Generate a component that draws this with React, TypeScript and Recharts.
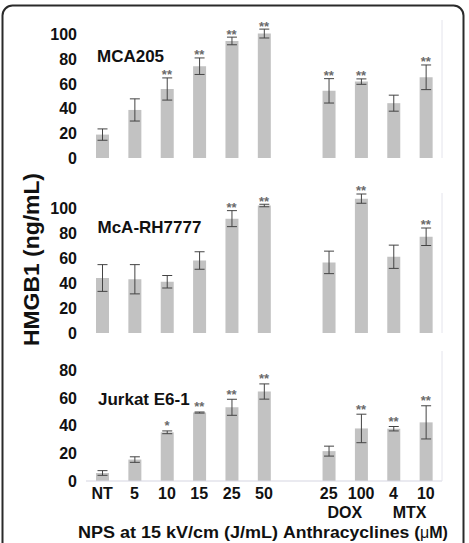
import React from "react";
import {
  ComposedChart,
  Bar,
  Line,
  XAxis,
  YAxis,
  ErrorBar,
} from "recharts";

// Treatment categories: NPS energy doses, an empty spacer, then anthracyclines
const categoryKeys = ["NT", "5", "10", "15", "25", "50", "gap", "DOX25", "DOX100", "MTX4", "MTX10"];
const tickLabels = ["NT", "5", "10", "15", "25", "50", "", "25", "100", "4", "10"];
const groupLabels = ["", "", "", "", "", "", "", "DOX", "", "MTX", ""];

// HMGB1 release (ng/mL), mean and error per cell line
const mca205Mean = [19, 39, 56, 74.5, 95, 101, null, 54.5, 62, 44.5, 65.5];
const mca205Err = [4.6, 9, 9, 6.7, 3.1, 3.6, null, 9.9, 2.2, 6.5, 10];
const mca205Sig = ["", "", "**", "**", "**", "**", "", "**", "**", "", "**"];

const rh7777Mean = [44, 43, 41, 58, 91.5, 102, null, 56.5, 107.5, 61, 77];
const rh7777Err = [10.7, 11.7, 5, 7, 6.4, 1, null, 9, 3.7, 9.3, 7];
const rh7777Sig = ["", "", "", "", "**", "**", "", "", "**", "", "**"];

const jurkatMean = [5.8, 15.5, 35.2, 49.5, 53.3, 64.7, null, 21.6, 38, 37.8, 42.4];
const jurkatErr = [1.7, 2, 1, 0.4, 5.8, 5.5, null, 3.6, 10.3, 1.6, 12];
const jurkatSig = ["", "", "*", "**", "**", "**", "", "", "**", "**", "**"];

const ticks100 = [0, 20, 40, 60, 80, 100];
const ticks80 = [0, 20, 40, 60, 80];

const BAR_FILL = "#c2c2c2";
const AXIS_LINE = "#d6d6e2";
const FRAME_LINE = "#e4e4ec";

function buildRows(mean: (number | null)[], err: (number | null)[], sig: string[]) {
  return categoryKeys.map((key, i) => ({
    key,
    mean: mean[i],
    err: err[i],
    sig: sig[i],
    top: mean[i] == null ? null : (mean[i] as number) + ((err[i] as number) || 0),
  }));
}

const yTickStyle = { fontSize: 16, fontWeight: "bold", fill: "#111" };

function makeStarDot(gap: number) {
  return (props: any) => {
    const { cx, cy, payload, index } = props;
    if (!payload || !payload.sig || cx == null || cy == null) {
      return <g key={`s-${index}`} />;
    }
    return (
      <text
        key={`s-${index}`}
        x={cx}
        y={cy + 7.4 - gap}
        textAnchor="middle"
        fontSize={13}
        fontWeight="bold"
        fill="#6a6a6a"
      >
        {payload.sig}
      </text>
    );
  };
}

const CategoryTick = (props: any) => {
  const { x, y, payload } = props;
  const idx = payload.index;
  const half = payload.offset != null ? payload.offset : 16;
  const group = groupLabels[idx];
  return (
    <g>
      <text x={x} y={y} dy="0.71em" textAnchor="middle" fontSize={16} fontWeight="bold" fill="#111">
        {tickLabels[idx]}
      </text>
      {group ? (
        <text x={x + half} y={y + 19} dy="0.71em" textAnchor="middle" fontSize={16} fontWeight="bold" fill="#111">
          {group}
        </text>
      ) : null}
    </g>
  );
};

type PanelProps = {
  rows: any[];
  top: number;
  height: number;
  marginTop: number;
  marginBottom: number;
  domainMax: number;
  ticks: number[];
  starGap: number;
  showCategories: boolean;
  frameTop: boolean;
};

function Panel(p: PanelProps) {
  return (
    <div style={{ position: "absolute", left: 0, top: p.top, width: 469, height: p.height }}>
      <ComposedChart
        width={469}
        height={p.height}
        data={p.rows}
        margin={{ top: p.marginTop, right: 26, bottom: p.marginBottom, left: 26 }}
        barSize={13}
      >
        <XAxis
          xAxisId="x"
          dataKey="key"
          type="category"
          height={p.showCategories ? 62 : 0}
          axisLine={{ stroke: AXIS_LINE, strokeWidth: 1.2 }}
          tickLine={false}
          tickSize={0}
          tickMargin={7}
          interval={0}
          tick={p.showCategories ? <CategoryTick /> : false}
        />
        {p.frameTop ? (
          <XAxis
            xAxisId="t"
            dataKey="key"
            orientation="top"
            height={0}
            axisLine={{ stroke: FRAME_LINE }}
            tickLine={false}
            tick={false}
          />
        ) : null}
        <YAxis
          yAxisId="v"
          width={60}
          domain={[0, p.domainMax]}
          ticks={p.ticks}
          axisLine={false}
          tickLine={false}
          tickSize={0}
          tickMargin={9}
          tick={yTickStyle}
        />
        <YAxis
          yAxisId="r"
          orientation="right"
          width={1}
          domain={[0, p.domainMax]}
          axisLine={{ stroke: FRAME_LINE }}
          tickLine={false}
          tick={false}
        />
        <Bar xAxisId="x" yAxisId="v" dataKey="mean" fill={BAR_FILL} isAnimationActive={false}>
          <ErrorBar dataKey="err" width={5} stroke="#444" strokeWidth={1} direction="y" />
        </Bar>
        <Line
          xAxisId="x"
          yAxisId="v"
          dataKey="top"
          stroke="none"
          strokeWidth={0}
          dot={makeStarDot(p.starGap)}
          activeDot={false}
          isAnimationActive={false}
        />
      </ComposedChart>
    </div>
  );
}

export default function App() {
  return (
    <div
      style={{
        position: "absolute",
        left: 0,
        top: 0,
        width: 469,
        height: 543,
        background: "#fff",
        overflow: "hidden",
        fontFamily: "'Liberation Sans', Arial, sans-serif",
      }}
    >
      <Panel
        rows={buildRows(mca205Mean, mca205Err, mca205Sig)}
        top={0}
        height={170}
        marginTop={20}
        marginBottom={12}
        domainMax={112}
        ticks={ticks100}
        starGap={6}
        showCategories={false}
        frameTop={false}
      />
      <Panel
        rows={buildRows(rh7777Mean, rh7777Err, rh7777Sig)}
        top={175}
        height={170}
        marginTop={18}
        marginBottom={12}
        domainMax={112}
        ticks={ticks100}
        starGap={6}
        showCategories={false}
        frameTop={false}
      />
      <Panel
        rows={buildRows(jurkatMean, jurkatErr, jurkatSig)}
        top={345}
        height={198}
        marginTop={6}
        marginBottom={0}
        domainMax={94}
        ticks={ticks80}
        starGap={8}
        showCategories={true}
        frameTop={true}
      />
      <svg
        width={469}
        height={543}
        style={{ position: "absolute", left: 0, top: 0, pointerEvents: "none" }}
      >
        <rect x={2.5} y={5.5} width={461} height={560} rx={10} fill="none" stroke="#2a2a2a" strokeWidth={2} />
        <text
          transform="rotate(-90)"
          x={-259.5}
          y={39.3}
          textAnchor="middle"
          fontSize={22}
          fontWeight="bold"
          fill="#111"
          textLength={173}
          lengthAdjust="spacingAndGlyphs"
        >
          HMGB1 (ng/mL)
        </text>
        <text x={97} y={61.7} fontSize={17} fontWeight="bold" fill="#111">MCA205</text>
        <text x={97.5} y={233.3} fontSize={17} fontWeight="bold" fill="#111">McA-RH7777</text>
        <text x={98} y={405} fontSize={17} fontWeight="bold" fill="#111">Jurkat E6-1</text>
        <text
          x={78}
          y={537.5}
          fontSize={16}
          fontWeight="bold"
          fill="#111"
          textLength={200}
          lengthAdjust="spacingAndGlyphs"
        >
          NPS at 15 kV/cm (J/mL)
        </text>
        <text x={283} y={537.5} fontSize={16} fontWeight="bold" fill="#111">
          <tspan textLength={137} lengthAdjust="spacingAndGlyphs">Anthracyclines (</tspan>
          <tspan fontWeight="normal">μ</tspan>
          <tspan>M)</tspan>
        </text>
      </svg>
    </div>
  );
}
